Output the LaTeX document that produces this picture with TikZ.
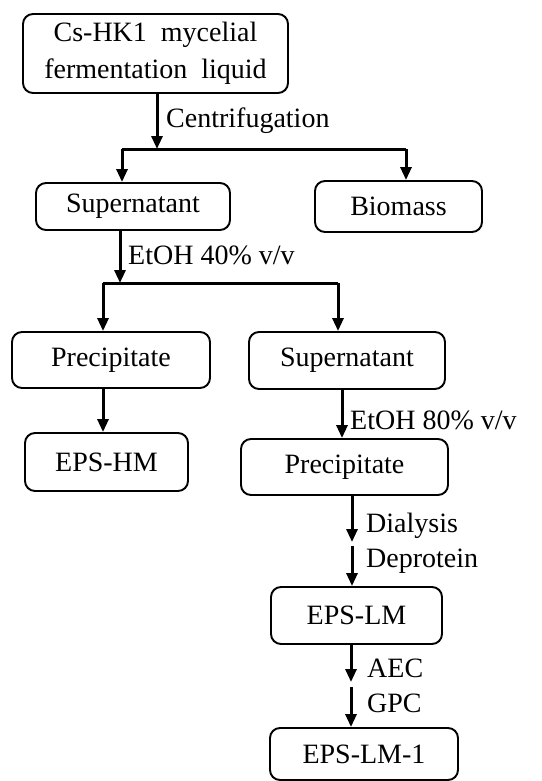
\documentclass[tikz,border=0pt]{standalone}
\usepackage{fontspec}
\setmainfont{Liberation Serif}
\usetikzlibrary{arrows.meta}
\begin{document}
\begin{tikzpicture}[x=1pt,y=-1pt,
  box/.style={draw,line width=1.9pt,rounded corners=10pt,inner sep=0pt,font=\fontsize{28}{37}\selectfont,align=center},
  lbl/.style={anchor=base west,inner sep=0pt,font=\fontsize{28}{37}\selectfont},
  arr/.style={line width=3pt,-{Triangle[width=11pt,length=13pt]}},
  ln/.style={line width=3pt}]
\useasboundingbox (0,0) rectangle (541,781);
\node[box,minimum width=265pt,minimum height=79pt] (top) at (155.5,53.5) {Cs-HK1\ \ mycelial\\fermentation\ \ liquid};
\node[box,minimum width=194pt,minimum height=47pt] (sup1) at (133,206.5) {Supernatant};
\node[box,minimum width=167pt,minimum height=51pt] (bio) at (398.5,206.5) {Biomass};
\node[box,minimum width=198pt,minimum height=56pt] (prec1) at (111,360) {Precipitate};
\node[box,minimum width=196pt,minimum height=57pt] (sup2) at (347,360.5) {Supernatant};
\node[box,minimum width=163pt,minimum height=58pt] (epshm) at (106.5,462) {EPS-HM};
\node[box,minimum width=207pt,minimum height=56pt] (prec2) at (344.5,467) {Precipitate};
\node[box,minimum width=171pt,minimum height=57pt] (epslm) at (356.5,615.5) {EPS-LM};
\node[box,minimum width=188pt,minimum height=52pt] (epslm1) at (364,754) {EPS-LM-1};
% split 1
\coordinate (j1) at (157,149);
\coordinate (j1l) at (122,149);
\coordinate (j1r) at (406,149);
\draw[arr] (top.south -| j1) -- (j1);
\draw[ln] (j1l) -- (j1r);
\draw[arr] (j1l) -- (sup1.north -| j1l);
\draw[arr] (j1r) -- (bio.north -| j1r);
\node[lbl] (c1) at (166,128) {Centrifugation};
% split 2
\coordinate (j2) at (120,283);
\coordinate (j2l) at (103,283);
\coordinate (j2r) at (338,283);
\draw[arr] (sup1.south -| j2) -- (j2);
\draw[ln] (j2l) -- (j2r);
\draw[arr] (j2l) -- (prec1.north -| j2l);
\draw[arr] (j2r) -- (sup2.north -| j2r);
\node[lbl] (c2) at (128,264) {EtOH 40\% v/v};
% prec1 -> epshm
\coordinate (x3) at (103,0);
\draw[arr] (prec1.south -| x3) -- (epshm.north -| x3);
% sup2 -> prec2
\coordinate (x4) at (342,0);
\draw[arr] (sup2.south -| x4) -- (prec2.north -| x4);
\node[lbl] (c3) at (350,429) {EtOH 80\% v/v};
% prec2 -> epslm
\coordinate (m5a) at (352,542);
\coordinate (m5b) at (352,546);
\draw[arr] (prec2.south -| m5a) -- (m5a);
\draw[arr] (m5b) -- (epslm.north -| m5b);
\node[lbl] (c4) at (366,532) {Dialysis};
\node[lbl] (c5) at (366,567) {Deprotein};
% epslm -> epslm1
\coordinate (m6a) at (351,682);
\coordinate (m6b) at (351,687);
\draw[arr] (epslm.south -| m6a) -- (m6a);
\draw[arr] (m6b) -- (epslm1.north -| m6b);
\node[lbl] (c6) at (367,677) {AEC};
\node[lbl] (c7) at (367,712) {GPC};
\end{tikzpicture}
\end{document}
